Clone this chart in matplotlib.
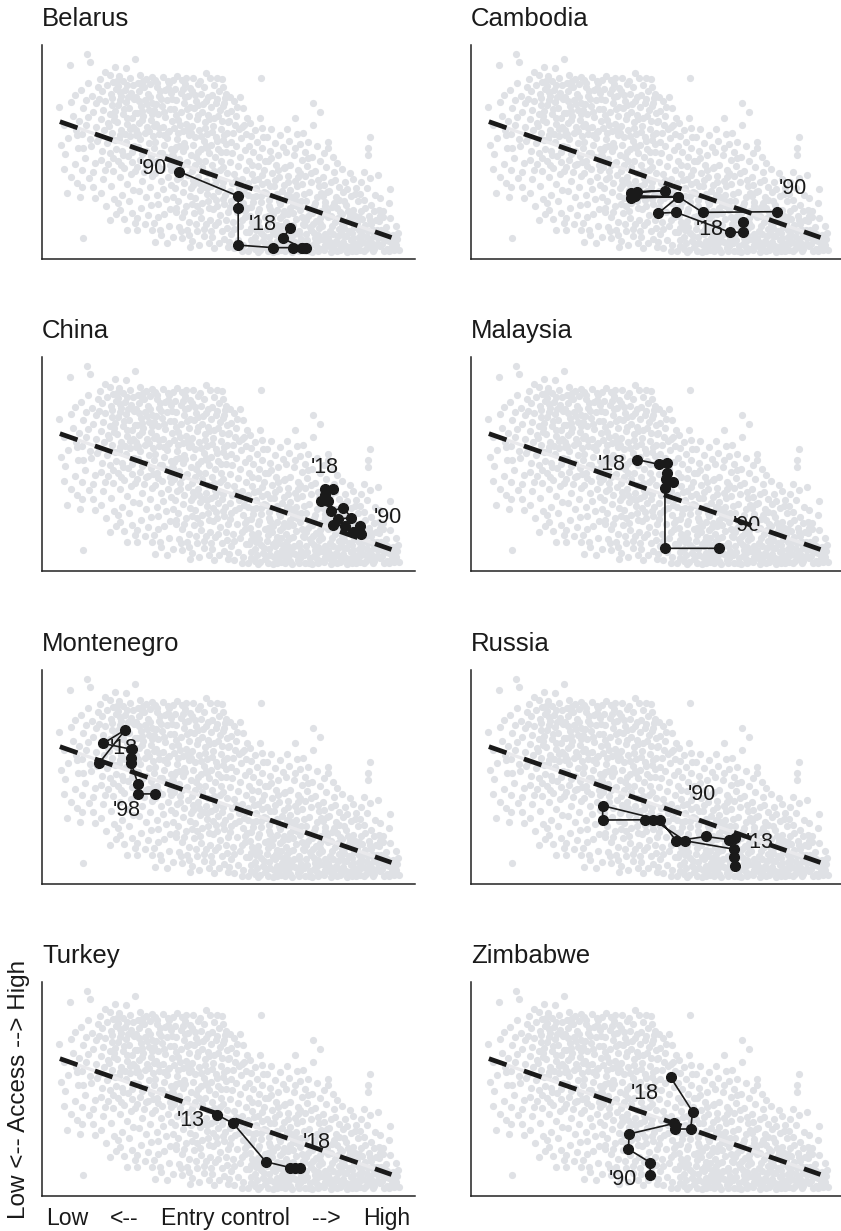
import matplotlib.pyplot as plt

plt.rcParams['font.family'] = ['Liberation Sans', 'DejaVu Sans']
plt.rcParams['lines.scale_dashes'] = False

# all country-years, (entry control, access) on a 0-100 index
bg_points = [
    # x 4-10
    (4.6, 71.2), (7.5, 90.6), (7.1, 56.4), (7.9, 38.4), (9.7, 51.7), (5.9, 62.5), (8.4, 67.0), (6.3, 48.9),
    (9.2, 60.1), (8.8, 44.5), (5.2, 53.4), (7.8, 73.5), (9.5, 35.6), (6.8, 31.0), (8.9, 76.8), (9.9, 64.4),
    (6.0, 42.0), (9.3, 57.8),
    # x 10-15
    (12.0, 95.8), (12.9, 92.2), (12.2, 82.4), (11.1, 9.6), (10.2, 29.1), (10.6, 33.8), (13.8, 33.8), (10.6, 41.6),
    (13.8, 40.8), (11.4, 47.3), (13.1, 52.9), (10.8, 58.3), (14.4, 61.7), (12.3, 66.5), (11.0, 70.4), (14.6, 72.8),
    (13.4, 76.1), (10.5, 78.9), (14.9, 80.3), (12.8, 56.2), (14.2, 45.0), (11.9, 62.8), (13.7, 68.9), (10.9, 52.0),
    (14.8, 55.0), (12.6, 38.0), (11.7, 74.2), (14.1, 28.5),
    # x 15-20
    (16.9, 87.5), (18.2, 86.0), (19.6, 89.8), (15.6, 83.9), (17.3, 81.2), (19.0, 82.6), (16.2, 78.4), (18.4, 77.0),
    (19.8, 79.5), (15.4, 74.8), (17.0, 73.6), (18.9, 72.1), (16.3, 69.5), (18.1, 67.9), (19.7, 69.2), (15.8, 65.3),
    (17.6, 63.6), (19.3, 64.9), (16.5, 60.2), (18.7, 58.8), (15.3, 56.9), (17.4, 54.4), (19.5, 55.8), (16.1, 50.7),
    (18.3, 49.4), (19.9, 51.2), (15.7, 46.3), (17.8, 44.2), (19.1, 41.0), (16.4, 37.5), (18.6, 34.2), (15.9, 30.8),
    (19.4, 27.9), (18.2, 18.2), (17.1, 24.6), (19.8, 21.0), (16.8, 41.8), (18.0, 62.0),
    # x 20-25
    (22.5, 89.1), (24.9, 93.4), (20.9, 22.9), (24.0, 21.3), (22.7, 13.5), (20.6, 85.3), (21.8, 83.0), (23.6, 84.8),
    (24.5, 81.5), (20.3, 80.7), (22.2, 79.2), (23.9, 77.7), (21.1, 76.0), (24.7, 74.9), (22.6, 73.3), (20.5, 71.8),
    (23.4, 70.5), (24.9, 68.3), (21.6, 67.7), (20.2, 64.0), (22.8, 63.2), (24.3, 61.9), (21.3, 60.3), (23.7, 57.7),
    (20.7, 56.1), (22.4, 54.8), (24.6, 53.0), (21.4, 50.6), (23.1, 48.3), (20.4, 45.7), (24.2, 45.1), (22.0, 42.6),
    (23.8, 39.8), (20.9, 38.2), (22.9, 34.9), (24.5, 32.3), (21.5, 30.0), (23.3, 27.1), (20.3, 26.4), (24.8, 17.0),
    (21.9, 18.7), (22.9, 65.9), (21.0, 74.1), (24.0, 49.8), (22.3, 58.6),
    # x 25-30
    (25.4, 13.5), (29.4, 13.5), (26.3, 86.1), (28.0, 84.0), (29.6, 85.2), (25.8, 82.2), (27.3, 80.5), (29.0, 81.8),
    (26.1, 78.3), (28.4, 77.0), (25.3, 75.6), (27.7, 74.2), (29.5, 73.0), (26.6, 71.4), (28.8, 69.6), (25.5, 68.0),
    (27.2, 66.7), (29.3, 65.1), (26.0, 63.5), (28.1, 61.8), (25.2, 60.5), (27.5, 59.0), (29.7, 57.5), (26.4, 55.9),
    (28.6, 54.1), (25.7, 52.3), (27.9, 50.6), (29.1, 48.2), (26.2, 46.4), (28.3, 44.6), (25.4, 42.9), (27.4, 40.5),
    (29.6, 38.8), (26.7, 36.4), (28.9, 33.7), (25.9, 31.9), (27.8, 28.8), (29.2, 25.3), (26.5, 23.9), (28.5, 20.6),
    (25.6, 19.2), (27.6, 16.4), (29.9, 62.3), (26.9, 69.0), (28.2, 72.3), (25.1, 57.8), (29.8, 45.5), (27.0, 83.1),
    # x 30-35
    (30.3, 83.6), (31.6, 13.5), (31.2, 19.8), (30.3, 8.1), (33.4, 7.3), (32.4, 85.0), (34.1, 82.1), (30.8, 80.4),
    (32.9, 79.0), (34.6, 77.5), (31.4, 76.2), (33.5, 74.3), (30.5, 72.6), (32.2, 71.3), (34.3, 69.9), (31.0, 67.8),
    (33.0, 66.4), (34.8, 64.7), (30.6, 63.2), (32.5, 61.5), (34.0, 60.0), (31.3, 58.2), (33.6, 56.4), (30.4, 54.7),
    (32.7, 53.1), (34.5, 51.4), (31.6, 49.6), (33.2, 47.7), (30.9, 45.9), (34.2, 44.0), (32.1, 42.2), (30.2, 40.3),
    (33.8, 38.5), (31.8, 36.6), (34.7, 34.4), (32.4, 32.5), (30.7, 30.1), (33.3, 28.0), (31.2, 25.8), (34.4, 23.2),
    (32.8, 21.0), (30.1, 17.0), (34.1, 15.6), (32.0, 11.2), (31.9, 74.8), (33.9, 79.9), (30.0, 69.4), (32.6, 57.9),
    (34.9, 48.6),
    # x 35-40
    (35.2, 83.6), (37.4, 83.6), (35.2, 10.4), (37.4, 9.6), (39.7, 5.7), (38.8, 13.5), (36.3, 85.6), (38.4, 81.7),
    (39.6, 79.8), (35.7, 79.5), (37.2, 77.8), (39.1, 76.2), (36.0, 74.4), (38.0, 72.8), (39.8, 71.0), (35.5, 70.2),
    (37.3, 68.6), (39.3, 66.9), (36.4, 65.0), (38.5, 63.3), (35.3, 61.4), (37.7, 59.7), (39.5, 58.0), (36.1, 56.3),
    (38.2, 54.4), (35.8, 52.2), (37.9, 50.5), (39.9, 48.7), (36.6, 46.8), (38.6, 44.9), (35.4, 43.0), (37.1, 41.1),
    (39.2, 39.2), (36.2, 37.3), (38.1, 35.4), (35.6, 33.1), (37.8, 31.2), (39.6, 29.4), (36.5, 27.0), (38.7, 24.8),
    (35.9, 22.1), (37.5, 19.5), (39.4, 17.4), (36.8, 15.0), (35.1, 29.0), (38.9, 60.5), (36.9, 62.8), (35.0, 48.0),
    (37.0, 38.5), (39.0, 45.5), (36.7, 53.0), (38.3, 75.5),
    # x 40-45
    (40.6, 84.4), (44.1, 86.7), (41.8, 81.9), (43.4, 80.2), (40.3, 78.6), (42.5, 77.0), (44.6, 75.9), (41.2, 74.0),
    (43.1, 72.4), (40.7, 70.6), (42.9, 68.8), (44.4, 67.4), (41.5, 65.6), (43.7, 63.8), (40.2, 62.1), (42.2, 60.2),
    (44.2, 58.6), (41.0, 56.8), (43.3, 55.0), (40.5, 53.2), (42.6, 51.4), (44.7, 49.5), (41.4, 47.6), (43.6, 45.9),
    (40.9, 43.8), (42.8, 42.0), (44.5, 40.1), (41.7, 38.2), (43.9, 36.3), (40.4, 34.5), (42.4, 32.4), (44.3, 30.2),
    (41.1, 28.3), (43.0, 26.1), (44.8, 24.0), (40.8, 21.7), (42.7, 19.3), (44.0, 16.5), (41.5, 13.2), (43.5, 10.8),
    (40.1, 8.6), (42.0, 6.4), (44.9, 7.6), (41.9, 71.8), (43.8, 61.0), (40.0, 59.0), (44.0, 52.8), (42.1, 45.6),
    (40.6, 37.0), (43.2, 33.6), (41.6, 24.6),
    # x 45-50
    (45.0, 84.4), (48.2, 83.9), (48.6, 80.5), (46.2, 81.5), (47.4, 78.6), (45.5, 76.8), (49.2, 77.3), (46.9, 74.6),
    (48.7, 73.0), (45.3, 71.2), (47.6, 69.7), (49.5, 68.2), (46.1, 66.1), (48.3, 64.5), (45.8, 62.2), (47.9, 60.8),
    (49.7, 59.0), (46.6, 57.1), (48.5, 55.4), (45.4, 53.3), (47.3, 51.5), (49.3, 49.8), (46.4, 47.8), (48.1, 45.9),
    (45.6, 43.7), (47.8, 41.8), (49.6, 40.0), (46.3, 38.0), (48.4, 36.1), (45.2, 34.2), (47.1, 32.0), (49.0, 30.1),
    (46.7, 27.8), (48.8, 25.5), (45.9, 23.2), (47.6, 20.7), (49.4, 18.3), (46.5, 15.8), (48.2, 13.0), (45.7, 10.3),
    (47.5, 7.4), (49.8, 5.5), (46.0, 5.0), (48.9, 9.2), (45.1, 18.4), (49.9, 22.0), (47.0, 36.8), (46.8, 55.0),
    (48.6, 71.3), (45.9, 29.6),
    # x 50-55
    (50.4, 75.8), (53.1, 75.8), (54.9, 65.7), (51.6, 73.6), (52.4, 71.1), (50.8, 69.0), (53.8, 70.6), (51.9, 66.8),
    (54.2, 62.7), (50.2, 64.4), (52.7, 60.9), (54.6, 58.6), (51.3, 58.9), (53.4, 56.5), (50.6, 54.5), (52.1, 52.7),
    (54.4, 50.9), (51.0, 49.6), (53.2, 47.5), (50.3, 45.2), (52.6, 43.4), (54.7, 41.6), (51.5, 39.7), (53.6, 37.5),
    (50.9, 35.3), (52.9, 33.2), (54.1, 30.8), (51.8, 28.6), (53.9, 26.2), (50.5, 24.5), (52.3, 22.1), (54.5, 19.8),
    (51.2, 17.4), (53.0, 15.2), (54.8, 12.6), (50.7, 11.8), (52.5, 9.1), (54.0, 6.7), (51.4, 5.3), (53.5, 3.9),
    (50.1, 7.8), (55.0, 24.0), (52.0, 37.0), (53.7, 61.8), (51.7, 62.5),
    # x 55-60
    (58.4, 65.7), (58.9, 61.0), (58.7, 84.4), (55.8, 63.4), (57.2, 60.3), (56.1, 57.7), (59.3, 57.2), (57.6, 54.7),
    (55.4, 52.6), (59.0, 52.0), (56.7, 49.9), (58.3, 47.6), (55.6, 45.6), (57.9, 43.4), (59.6, 41.6), (56.3, 39.7),
    (58.0, 37.4), (55.3, 35.3), (57.4, 33.0), (59.5, 31.2), (56.6, 28.8), (58.6, 26.6), (55.9, 24.2), (57.8, 21.8),
    (59.8, 19.4), (56.4, 17.2), (58.2, 14.9), (55.5, 12.5), (57.2, 10.3), (59.2, 8.2), (56.0, 6.0), (58.5, 4.2),
    (55.2, 3.7), (57.0, 4.8), (59.7, 5.6), (56.9, 16.0), (58.8, 12.0), (55.7, 20.3), (57.5, 29.5), (59.1, 35.0),
    (56.2, 44.0), (58.1, 23.5), (59.9, 45.8), (55.1, 30.0), (57.7, 7.5),
    # x 60-65
    (61.5, 60.6), (63.8, 58.0), (60.3, 56.8), (62.4, 54.3), (64.6, 52.5), (61.0, 50.5), (63.2, 48.4), (60.6, 45.9),
    (62.8, 44.1), (64.9, 42.5), (61.7, 40.3), (63.6, 38.2), (60.4, 36.0), (62.2, 33.9), (64.3, 31.7), (61.3, 29.6),
    (63.5, 27.3), (60.8, 25.0), (62.9, 22.8), (64.7, 20.6), (61.6, 18.4), (63.1, 16.1), (60.2, 14.2), (62.5, 11.8),
    (64.4, 9.6), (61.1, 7.6), (63.4, 5.4), (60.5, 3.8), (62.0, 3.5), (64.0, 4.0), (65.0, 6.8), (60.9, 10.4),
    (62.7, 13.9), (64.1, 15.5), (61.9, 21.0), (63.9, 25.8), (60.1, 31.0), (62.6, 36.8), (64.8, 34.5), (61.4, 47.2),
    (63.0, 8.5), (60.7, 20.0), (64.5, 12.3), (62.3, 6.5), (63.7, 19.0),
    # x 65-70
    (67.8, 65.7), (65.6, 60.8), (68.4, 58.3), (66.2, 55.1), (69.1, 53.6), (65.3, 50.2), (67.5, 48.7), (69.6, 46.3),
    (66.6, 44.0), (68.7, 41.5), (65.9, 39.0), (67.9, 36.6), (69.8, 34.9), (66.4, 32.2), (68.2, 30.1), (65.4, 27.7),
    (67.3, 25.4), (69.3, 23.0), (66.0, 20.8), (68.0, 18.5), (69.9, 16.3), (65.7, 14.1), (67.6, 11.8), (69.5, 9.5),
    (66.3, 7.3), (68.5, 5.1), (65.2, 3.6), (67.0, 3.3), (69.0, 3.8), (66.9, 9.0), (68.8, 13.0), (65.5, 17.5),
    (67.2, 21.5), (69.4, 27.0), (66.8, 29.0), (68.6, 7.0), (65.8, 5.5), (67.4, 15.8), (69.7, 19.5), (66.5, 24.0),
    (68.3, 34.0), (65.1, 43.0), (67.7, 52.0), (69.2, 40.0), (66.1, 11.0),
    # x 70-75
    (72.7, 72.7), (74.5, 68.8), (70.1, 58.7), (72.7, 62.6), (71.3, 54.9), (73.8, 52.8), (70.6, 50.1), (72.5, 47.6),
    (74.6, 45.7), (71.1, 43.3), (73.2, 41.0), (70.4, 38.6), (72.2, 36.2), (74.3, 34.0), (71.7, 31.4), (73.6, 29.2),
    (70.8, 27.0), (72.9, 24.7), (74.9, 22.4), (71.4, 20.2), (73.4, 17.9), (70.2, 15.7), (72.1, 13.5), (74.1, 11.2),
    (71.0, 9.0), (73.0, 6.8), (74.7, 4.6), (70.5, 3.7), (72.4, 3.4), (74.0, 3.9), (71.8, 5.9), (73.7, 8.4),
    (70.9, 11.8), (72.6, 16.5), (74.4, 19.0), (71.5, 23.5), (73.3, 26.0), (70.3, 30.5), (74.8, 31.0), (72.0, 40.0),
    (73.9, 37.0), (71.2, 47.0), (70.7, 18.0), (73.1, 10.0), (74.2, 14.5),
    # x 75-80
    (76.8, 54.8), (76.8, 51.7), (78.1, 47.8), (75.5, 49.3), (79.0, 45.0), (76.1, 43.1), (78.4, 40.7), (75.3, 38.3),
    (77.5, 36.0), (79.6, 33.7), (76.4, 31.3), (78.7, 29.0), (75.8, 26.7), (77.8, 24.3), (79.8, 22.0), (76.6, 19.8),
    (78.5, 17.5), (75.2, 15.3), (77.2, 13.1), (79.3, 10.9), (76.0, 8.7), (78.0, 6.5), (79.9, 4.3), (75.6, 4.0),
    (77.4, 3.5), (79.1, 3.9), (76.9, 6.0), (78.9, 8.5), (75.9, 11.5), (77.7, 15.5), (79.5, 14.0), (76.3, 22.5),
    (78.2, 26.0), (75.4, 29.5), (77.0, 32.0), (79.4, 19.0), (78.6, 37.0), (75.1, 20.5), (76.7, 9.8), (77.9, 11.8),
    (75.7, 34.5), (79.7, 27.5),
    # x 80-85
    (82.6, 40.0), (80.5, 41.9), (83.5, 37.6), (81.2, 36.0), (84.2, 33.4), (80.8, 31.2), (82.9, 29.4), (84.7, 27.0),
    (81.5, 25.3), (83.3, 23.1), (80.3, 21.0), (82.2, 18.8), (84.5, 16.6), (81.0, 14.4), (83.0, 12.3), (84.9, 10.1),
    (80.7, 8.0), (82.5, 5.8), (84.1, 3.9), (81.8, 3.5), (83.7, 6.9), (80.2, 4.7), (81.6, 10.6), (83.6, 14.9),
    (82.0, 22.5), (84.0, 20.0), (80.9, 27.0), (83.9, 30.5), (81.3, 17.5), (84.6, 7.5), (82.8, 8.8), (80.1, 13.0),
    (83.1, 3.6), (85.0, 13.5), (81.9, 32.5),
    # x 85-90
    (87.9, 57.1), (87.5, 51.7), (87.5, 48.6), (85.6, 35.9), (87.0, 33.2), (89.2, 29.8), (86.2, 27.6), (88.3, 25.4),
    (85.4, 22.5), (87.6, 20.3), (89.6, 18.1), (86.5, 15.9), (88.7, 13.6), (85.8, 11.4), (87.9, 9.2), (89.8, 7.0),
    (86.9, 4.8), (88.8, 3.6), (85.3, 4.2), (87.2, 6.8), (89.4, 10.8), (86.0, 8.0), (88.1, 16.5), (85.9, 18.8),
    (87.4, 13.0), (89.0, 22.5), (86.7, 24.0), (88.5, 5.2), (85.2, 30.5), (89.9, 13.5), (86.3, 40.5), (88.0, 38.0),
    # x 90-96
    (90.2, 39.2), (93.3, 32.5), (92.9, 26.0), (93.3, 19.0), (95.5, 12.0), (90.7, 28.5), (91.5, 22.4), (90.4, 17.6),
    (92.1, 14.8), (94.0, 11.2), (91.0, 10.2), (93.0, 8.3), (95.0, 6.5), (90.6, 6.2), (92.4, 4.9), (94.3, 4.0),
    (95.6, 4.3), (91.8, 3.6), (93.7, 6.1), (90.9, 13.5), (94.6, 8.9), (92.6, 11.5), (91.3, 19.8), (94.9, 15.3),
    (90.3, 23.0),
    # denser upper-left core
    (18.9, 75.3), (20.8, 78.0), (23.0, 75.6), (25.9, 73.7), (28.9, 75.5), (31.6, 78.4), (34.8, 75.0), (37.8, 79.6),
    (40.9, 76.5), (43.9, 73.6), (46.7, 72.8), (49.0, 75.2), (19.4, 66.6), (21.9, 70.0), (24.1, 66.0), (26.8, 64.9),
    (29.4, 67.6), (32.8, 68.9), (35.9, 67.3), (38.9, 69.9), (41.8, 67.2), (44.9, 65.3), (47.3, 66.9), (49.8, 64.0),
    (18.6, 55.9), (20.9, 58.0), (23.5, 60.9), (25.8, 58.6), (28.6, 59.7), (31.5, 61.3), (33.8, 59.3), (36.5, 58.8),
    (39.8, 61.2), (42.7, 57.4), (45.6, 59.3), (48.9, 57.9), (19.0, 47.3), (21.8, 48.7), (24.4, 51.4), (26.9, 49.2),
    (29.9, 51.9), (32.3, 49.7), (35.3, 51.0), (38.4, 52.5), (41.7, 49.8), (44.3, 51.9), (47.9, 50.2), (49.4, 53.8),
    (21.3, 44.0), (24.9, 41.2), (27.8, 43.8), (31.1, 43.6), (34.6, 41.6), (37.6, 43.9), (40.3, 41.1), (43.0, 43.2),
    (46.0, 41.0), (48.6, 43.2), (22.8, 81.2), (26.7, 81.0), (30.9, 82.3), (33.7, 83.3), (38.6, 84.4), (42.3, 83.0),
    (46.9, 84.8), (20.1, 83.1),
    # denser bottom band
    (55.9, 9.0), (57.9, 3.4), (59.4, 10.9), (60.4, 7.0), (61.8, 12.8), (62.9, 3.9), (64.2, 7.8), (65.5, 10.0),
    (66.6, 4.5), (67.9, 8.0), (69.2, 5.9), (70.3, 7.5), (71.6, 3.9), (72.9, 12.3), (73.6, 5.5), (74.9, 9.3),
    (75.8, 6.7), (77.1, 8.0), (78.3, 4.8), (79.6, 7.2), (80.6, 11.3), (81.4, 6.3), (82.2, 12.9), (83.4, 9.6),
    (84.3, 5.4), (85.6, 7.4), (86.4, 3.7), (87.1, 10.3), (88.2, 7.9), (89.1, 4.6), (90.0, 9.6), (91.2, 7.2),
    (92.2, 8.8), (93.1, 3.8), (94.2, 7.4), (95.2, 9.4), (91.6, 12.8), (88.9, 11.6), (86.0, 13.8), (83.2, 17.4),
    (80.4, 16.5), (77.6, 19.9), (74.6, 16.6), (71.8, 14.8), (69.0, 11.7), (66.4, 15.3), (63.3, 13.2), (60.6, 16.9),
    (57.4, 13.6), (58.0, 17.9), (61.2, 23.5), (65.0, 22.5), (68.3, 24.8), (72.3, 21.3), (76.0, 24.8), (79.0, 24.0),
    (82.7, 20.5), (85.0, 19.6), (87.9, 18.1), (90.6, 20.2),
    # denser middle band
    (36.0, 24.0), (38.2, 21.8), (40.2, 25.6), (42.3, 22.6), (44.6, 27.1), (46.8, 24.9), (48.6, 28.0), (50.8, 26.9),
    (52.8, 29.4), (54.3, 22.4), (56.5, 26.5), (58.7, 29.4), (60.9, 27.6), (63.0, 30.5), (65.6, 29.8), (67.8, 27.8),
    (37.3, 13.3), (39.3, 11.0), (41.2, 16.3), (43.4, 13.8), (45.4, 13.0), (47.3, 17.5), (49.5, 14.7), (51.6, 13.8),
    (53.6, 18.0), (56.1, 14.5), (39.9, 33.2), (42.0, 35.6), (44.2, 33.3), (46.4, 35.0), (48.2, 33.5), (50.3, 32.0),
    (52.4, 35.6), (54.8, 33.8), (56.8, 37.0), (59.0, 39.4), (61.2, 34.0), (63.4, 41.6), (66.0, 36.1), (68.6, 38.4),
]
bg_x = [p[0] for p in bg_points]
bg_y = [p[1] for p in bg_points]

# pooled linear fit
fit_x = [4.8, 93.7]
fit_intercept = 67.1
fit_slope = -0.609

countries = ["Belarus", "Cambodia", "China", "Malaysia",
             "Montenegro", "Russia", "Turkey", "Zimbabwe"]

belarus_x = [36.8, 52.6, 52.6, 52.6, 62.0, 67.4, 69.6, 70.9, 69.6, 64.5, 66.5]
belarus_y = [40.8, 29.4, 23.7, 6.5, 5.3, 5.3, 5.3, 5.3, 5.3, 9.7, 14.3]
belarus_labels = [("'90", 29.8, 42.5), ("'18", 59.3, 15.9)]

cambodia_x = [82.0, 62.1, 55.6, 44.0, 43.0, 52.0, 44.5, 43.0, 55.6, 50.2, 55.0, 69.4, 72.8, 72.8]
cambodia_y = [22.1, 21.8, 29.1, 29.5, 31.0, 31.9, 31.5, 28.5, 29.1, 21.4, 21.8, 12.5, 12.5, 17.4]
cambodia_labels = [("'90", 86.4, 33.0), ("'18", 64.1, 13.6)]

china_x = [85.4, 85.2, 83.4, 81.2, 78.0, 79.4, 82.9, 80.7, 77.6, 76.7, 74.9, 75.8, 78.0, 76.0]
china_y = [17.2, 21.1, 18.0, 21.1, 21.5, 24.2, 25.0, 29.6, 28.0, 32.7, 32.7, 38.1, 38.1, 35.5]
china_labels = [("'90", 92.6, 25.0), ("'18", 75.8, 48.2)]

malaysia_x = [66.6, 52.0, 52.0, 54.2, 52.3, 52.5, 52.6, 50.5, 44.4]
malaysia_y = [10.6, 10.6, 38.9, 41.5, 42.8, 46.0, 50.6, 49.8, 52.1]
malaysia_labels = [("'90", 73.9, 21.1), ("'18", 37.7, 49.8)]

montenegro_x = [30.2, 25.7, 25.7, 23.9, 23.9, 24.1, 16.4, 22.3, 15.4]
montenegro_y = [42.1, 42.1, 46.9, 56.7, 58.7, 62.9, 65.7, 72.0, 56.7]
montenegro_labels = [("'98", 22.8, 34.4), ("'18", 21.9, 63.3)]

russia_x = [70.8, 69.3, 63.0, 55.0, 50.7, 35.3, 35.3, 46.6, 48.9, 57.4, 70.4, 70.4, 70.8]
russia_y = [21.7, 20.7, 22.2, 20.2, 30.0, 36.6, 29.9, 30.0, 30.0, 20.2, 16.3, 12.4, 8.5]
russia_labels = [("'90", 61.8, 41.8), ("'18", 77.5, 19.4)]

turkey_x = [47.0, 51.3, 60.0, 66.5, 67.9, 69.2]
turkey_y = [37.9, 33.9, 16.0, 13.3, 13.3, 13.3]
turkey_labels = [("'13", 39.9, 35.2), ("'18", 73.6, 25.0)]

zimbabwe_x = [48.0, 48.1, 42.2, 42.4, 54.4, 54.7, 58.9, 59.4, 53.5]
zimbabwe_y = [9.9, 15.6, 21.9, 29.0, 33.9, 31.3, 31.3, 39.4, 55.5]
zimbabwe_labels = [("'90", 40.7, 7.8), ("'18", 46.6, 47.7)]

paths = {
    "Belarus": (belarus_x, belarus_y, belarus_labels),
    "Cambodia": (cambodia_x, cambodia_y, cambodia_labels),
    "China": (china_x, china_y, china_labels),
    "Malaysia": (malaysia_x, malaysia_y, malaysia_labels),
    "Montenegro": (montenegro_x, montenegro_y, montenegro_labels),
    "Russia": (russia_x, russia_y, russia_labels),
    "Turkey": (turkey_x, turkey_y, turkey_labels),
    "Zimbabwe": (zimbabwe_x, zimbabwe_y, zimbabwe_labels),
}

x_caption = [("Low", 0.068), ("<--", 0.220), ("Entry control", 0.491), ("-->", 0.763), ("High", 0.924)]
y_caption = "Low <-- Access --> High"

W, H = 841, 1231
fig = plt.figure(figsize=(W / 100, H / 100), dpi=100)

col_left = [42, 471]
row_top = [45, 357, 670, 982]
ax_w, ax_h = 373, 214

fit_y = [fit_intercept + fit_slope * x for x in fit_x]

axes = []
for i, name in enumerate(countries):
    r, c = divmod(i, 2)
    ax = fig.add_axes([col_left[c] / W, 1 - (row_top[r] + ax_h) / H, ax_w / W, ax_h / H])
    axes.append(ax)

    ax.scatter(bg_x, bg_y, s=27, color="#dfe1e5", linewidths=0, zorder=1)

    px, py, labels = paths[name]
    for text, lx, ly in labels:
        ax.text(lx, ly, text, fontsize=15.5, ha="center", va="center", color="#1a1a1a", zorder=2)

    ax.plot(fit_x, fit_y, color="#e9e9ec", lw=2.4, solid_capstyle="butt", zorder=3)
    ax.plot(fit_x, fit_y, color="#1a1a1a", lw=3.4, linestyle=(0, (13.4, 13.3)), zorder=4)

    ax.plot(px, py, color="#1a1a1a", lw=1.2, marker="o", markersize=7, zorder=5)

    ax.set_xlim(0, 100)
    ax.set_ylim(0, 100)
    ax.set_xticks([])
    ax.set_yticks([])
    for side in ["top", "right"]:
        ax.spines[side].set_visible(False)
    for side in ["left", "bottom"]:
        ax.spines[side].set_color("#222222")
        ax.spines[side].set_linewidth(1.1)
    ax.set_title(name, loc="left", fontsize=18.5, pad=14, color="#1a1a1a")

# axis captions on the bottom-left panel
ax = axes[6]
for word, fx in x_caption:
    ax.text(fx, -0.103, word, transform=ax.transAxes,
            ha="center", va="center", fontsize=16.6, color="#1a1a1a")
ax.text(-0.063, 0.5, y_caption, transform=ax.transAxes, rotation=90,
        ha="center", va="center", fontsize=17.5, color="#1a1a1a")

fig.savefig("out.png", dpi=100)
